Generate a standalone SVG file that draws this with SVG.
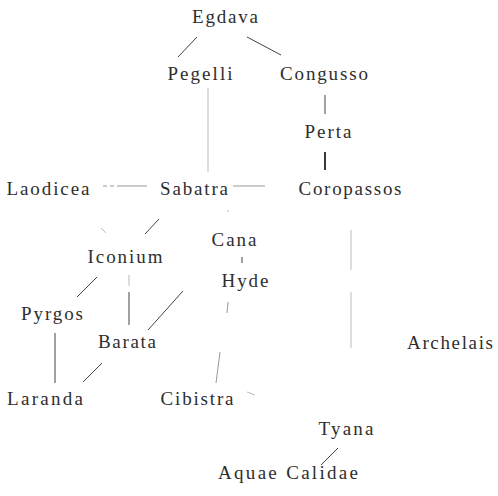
<svg xmlns="http://www.w3.org/2000/svg" width="498" height="496" viewBox="0 0 498 496">
<style>
text{font-family:"Liberation Serif","DejaVu Serif",serif;font-size:19px;fill:#2e2e2e;text-anchor:middle}
.l{stroke:#444;stroke-width:1;fill:none}
.f{stroke:#999;stroke-width:1;fill:none}
.vf{stroke:#bbb;stroke-width:1;fill:none}
.t{stroke:#222;stroke-width:1.8;fill:none}
</style>
<rect width="498" height="496" fill="#fff"/>
<g id="connectors">
<line class="l" x1="197" y1="37" x2="178" y2="57"/>
<line class="l" x1="247" y1="37" x2="281" y2="55"/>
<line class="vf" x1="208" y1="88" x2="208" y2="172"/>
<line class="l" x1="325" y1="95" x2="325" y2="114"/>
<line class="t" x1="325" y1="152" x2="325" y2="170"/>
<line class="f" x1="103" y1="186" x2="147" y2="186" stroke-dasharray="4,3,4,3,30"/>
<line class="f" x1="233" y1="186" x2="265" y2="186"/>
<line class="vf" x1="228" y1="210" x2="228" y2="212"/>
<line class="vf" x1="101" y1="228" x2="106" y2="233"/>
<line class="l" x1="159" y1="219" x2="145" y2="234"/>
<line class="l" x1="242" y1="257" x2="242" y2="263"/>
<line class="vf" x1="351" y1="230" x2="351" y2="348" stroke-dasharray="40,22,200"/>
<line class="l" x1="97" y1="277" x2="77" y2="297"/>
<line class="l" x1="129" y1="292" x2="129" y2="325"/>
<line class="vf" x1="129" y1="275" x2="129" y2="286" stroke-width="2"/>
<line class="l" x1="183" y1="291" x2="148" y2="330"/>
<line class="f" x1="228" y1="302" x2="227" y2="313"/>
<line class="f" x1="220" y1="352" x2="216" y2="383"/>
<line class="l" x1="55" y1="333" x2="55" y2="383"/>
<line class="l" x1="102" y1="363" x2="83" y2="382"/>
<line class="vf" x1="247" y1="392" x2="255" y2="395"/>
<line class="l" x1="338" y1="448" x2="321" y2="465"/>
</g>
<g id="Egdava"><text x="225" y="23" textLength="66">Egdava</text></g>
<g id="Pegelli"><text x="200" y="80" textLength="65">Pegelli</text></g>
<g id="Congusso"><text x="324" y="80" textLength="88">Congusso</text></g>
<g id="Perta"><text x="328" y="138" textLength="47">Perta</text></g>
<g id="Laodicea"><text x="48" y="195" textLength="83">Laodicea</text></g>
<g id="Sabatra"><text x="194" y="195" textLength="68">Sabatra</text></g>
<g id="Coropassos"><text x="350" y="195" textLength="103">Coropassos</text></g>
<g id="Cana"><text x="234" y="246" textLength="45">Cana</text></g>
<g id="Iconium"><text x="125" y="263" textLength="75">Iconium</text></g>
<g id="Hyde"><text x="245" y="287" textLength="47">Hyde</text></g>
<g id="Pyrgos"><text x="52" y="320" textLength="62">Pyrgos</text></g>
<g id="Barata"><text x="127" y="348" textLength="58">Barata</text></g>
<g id="Archelais"><text x="450" y="349" textLength="86">Archelais</text></g>
<g id="Laranda"><text x="45" y="405" textLength="76">Laranda</text></g>
<g id="Cibistra"><text x="197" y="405" textLength="73">Cibistra</text></g>
<g id="Tyana"><text x="346" y="435" textLength="55">Tyana</text></g>
<g id="AquaeCalidae"><text x="288" y="479" textLength="140">Aquae Calidae</text></g>
</svg>
